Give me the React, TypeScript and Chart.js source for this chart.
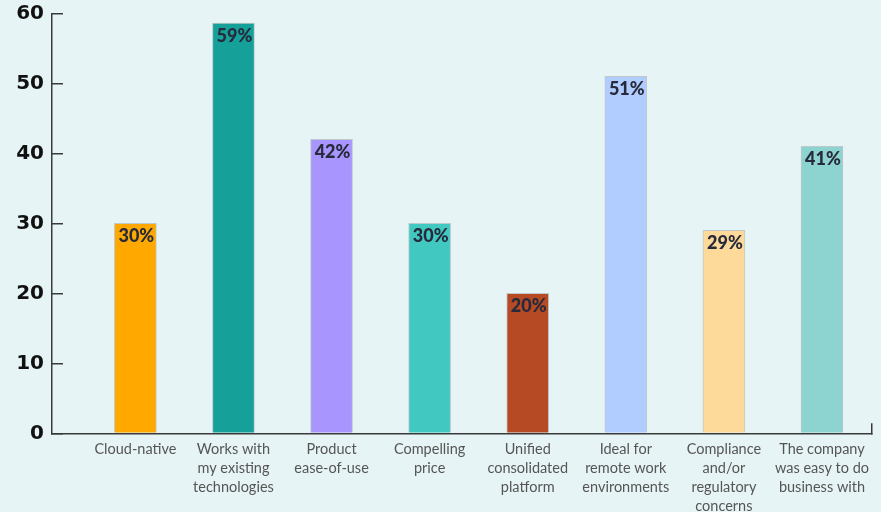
import React, { useEffect, useRef } from "react";
import { Chart, registerables } from "chart.js";

Chart.register(...registerables);

const categories: string[][] = [
  ["Cloud-native"],
  ["Works with", "my existing", "technologies"],
  ["Product", "ease-of-use"],
  ["Compelling", "price"],
  ["Unified", "consolidated", "platform"],
  ["Ideal for", "remote work", "environments"],
  ["Compliance", "and/or", "regulatory", "concerns"],
  ["The company", "was easy to do", "business with"],
];

const values: number[] = [30, 58.6, 42, 30, 20, 51, 29, 41];

const barColors: string[] = [
  "#FFA800",
  "#15A19A",
  "#A895FE",
  "#41C9C1",
  "#B54A25",
  "#B1CCFE",
  "#FEDA9A",
  "#8DD3CF",
];

const yTicks: number[] = [0, 10, 20, 30, 40, 50, 60];

const X_MIN = -0.85;
const X_MAX = 7.51;
const AXIS_COLOR = "#3a3a3a";
const BG = "#e6f4f5";

const bgPlugin = {
  id: "bg",
  beforeDraw(chart: any) {
    const { ctx, width, height } = chart;
    ctx.save();
    ctx.fillStyle = BG;
    ctx.fillRect(0, 0, width, height);
    ctx.restore();
  },
};

const barLabelPlugin = {
  id: "barLabels",
  afterDatasetsDraw(chart: any) {
    const { ctx } = chart;
    const meta = chart.getDatasetMeta(0);
    ctx.save();
    ctx.font = "900 18px Lato";
    ctx.fillStyle = "#262a3a";
    ctx.textAlign = "center";
    ctx.textBaseline = "middle";
    meta.data.forEach((el: any, i: number) => {
      ctx.fillText(`${Math.round(values[i])}%`, el.x + 1, el.y + 13);
    });
    ctx.restore();
  },
};

export default function App() {
  const ref = useRef<HTMLCanvasElement>(null);

  useEffect(() => {
    if (!ref.current) return;
    const chart = new Chart(ref.current, {
      type: "bar",
      data: {
        datasets: [
          {
            data: values.map((v, i) => ({ x: i, y: v })),
            backgroundColor: barColors,
            borderColor: "rgba(120,120,120,0.35)",
            borderWidth: 1,
            barThickness: 42,
          },
        ],
      },
      plugins: [bgPlugin, barLabelPlugin],
      options: {
        animation: false,
        responsive: true,
        maintainAspectRatio: false,
        layout: { padding: { top: 13.3, right: 9, bottom: 0, left: 0 } },
        plugins: {
          legend: { display: false },
          tooltip: { enabled: false },
        },
        scales: {
          x: {
            type: "linear",
            min: X_MIN,
            max: X_MAX,
            offset: false,
            afterBuildTicks: (scale: any) => {
              scale.ticks = [
                { value: X_MIN },
                ...categories.map((_, i) => ({ value: i })),
                { value: X_MAX },
              ];
            },
            afterFit: (scale: any) => {
              scale.height = 78.7;
              scale.paddingLeft = 0;
              scale.paddingRight = 0;
            },
            grid: {
              offset: false,
              drawOnChartArea: false,
              tickLength: -10,
              lineWidth: 1.5,
              color: (ctx: any) =>
                ctx.tick && ctx.tick.value === X_MAX ? AXIS_COLOR : "rgba(0,0,0,0)",
            },
            border: { color: AXIS_COLOR, width: 1.5 },
            ticks: {
              autoSkip: false,
              maxRotation: 0,
              minRotation: 0,
              padding: 16.5,
              color: "#555",
              font: { family: "Lato", size: 14.5, lineHeight: 1.31 },
              callback: (value: any) =>
                Number.isInteger(value) && categories[value] ? categories[value] : "",
            },
          },
          y: {
            min: 0,
            max: 60,
            afterBuildTicks: (scale: any) => {
              scale.ticks = yTicks.map((v) => ({ value: v }));
            },
            afterFit: (scale: any) => {
              scale.width = 52;
              scale.paddingTop = 0;
              scale.paddingBottom = 0;
            },
            grid: {
              drawOnChartArea: false,
              tickLength: -11,
              lineWidth: 1.5,
              color: AXIS_COLOR,
            },
            border: { color: AXIS_COLOR, width: 1.5 },
            ticks: {
              padding: 19,
              color: "#111",
              font: { family: "DejaVu Sans", weight: "bold", size: 20 },
            },
          },
        },
      },
    });
    return () => chart.destroy();
  }, []);

  return (
    <div style={{ position: "absolute", left: 0, top: 0, width: 881, height: 512 }}>
      <canvas ref={ref} />
    </div>
  );
}
